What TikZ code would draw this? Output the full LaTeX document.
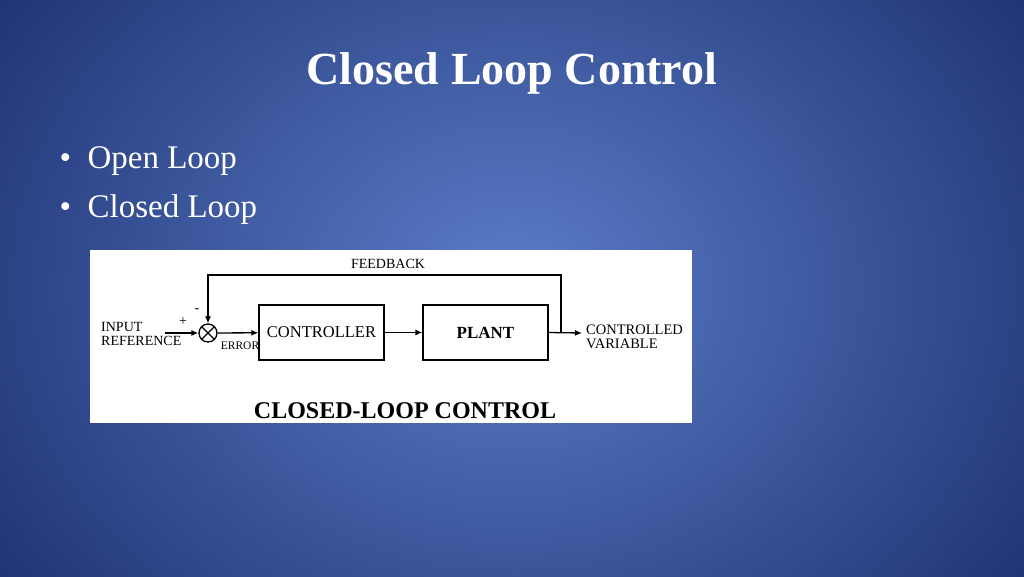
\documentclass[tikz,border=0pt]{standalone}
\usepackage{fontspec}
\setmainfont{Liberation Serif}
\usetikzlibrary{arrows.meta}
\definecolor{bgin}{RGB}{92,125,200}
\definecolor{bgout}{RGB}{28,48,112}
\begin{document}
\begin{tikzpicture}[x=1pt,y=-1pt,
  blk/.style={draw,line width=1.3pt,minimum width=125pt,minimum height=55pt,inner sep=0pt,font=\fontsize{16.5}{16.5}\selectfont},
  lbl/.style={font=\fontsize{14}{13}\selectfont,inner sep=0pt,align=left},
  arr/.style={-{Latex[length=7pt,width=6pt]},line width=1.3pt}]
\useasboundingbox (0,0) rectangle (1024,576);
\shade[inner color=bgin,outer color=bgout] (-150,-250) rectangle (1174,826);
\node[text=white,font=\fontsize{46}{46}\selectfont\bfseries] (title) at (512,73) {Closed Loop Control};
\node[text=white,font=\fontsize{33}{33}\selectfont,anchor=west] (b1) at (56,161) {\textbullet\ \ Open Loop};
\node[text=white,font=\fontsize{33}{33}\selectfont,anchor=west] (b2) at (56,210) {\textbullet\ \ Closed Loop};
\fill[white] (90,250) rectangle (692,423);
\node[blk] (ctl) at (321.5,332.5) {CONTROLLER};
\node[blk,font=\fontsize{17}{17}\selectfont\bfseries] (plt) at (485.5,332.5) {PLANT};
\node[draw,line width=1.3pt,circle,minimum size=18pt,inner sep=0pt] (sum) at (208,333) {};
\draw[line width=1.1pt] (sum.north east)--(sum.south west) (sum.north west)--(sum.south east);
\coordinate (in) at (165,333);
\coordinate (tap) at (561,333);
\coordinate (out) at (582,333);
\draw[arr] (in)--(sum);
\draw[arr] (sum)--(ctl);
\draw[arr] (ctl)--(plt);
\draw[arr] (plt.east)--(out);
\draw[arr] (tap)--(561,275)-|(sum.north);
\node[lbl,anchor=west] (inl) at (101,334) {INPUT\\[1pt]REFERENCE};
\node[lbl] (plus) at (183,322) {+};
\node[lbl] (minus) at (197,311) {-};
\node[lbl,font=\fontsize{11.5}{11.5}\selectfont] (err) at (240,346) {ERROR};
\node[lbl] (fb) at (388,264) {FEEDBACK};
\node[lbl,anchor=west,font=\fontsize{14.5}{13}\selectfont] (cv) at (586,337) {CONTROLLED\\[1pt]VARIABLE};
\node[font=\fontsize{24}{24}\selectfont\bfseries] (cap) at (405,411) {CLOSED-LOOP CONTROL};
\end{tikzpicture}
\end{document}
